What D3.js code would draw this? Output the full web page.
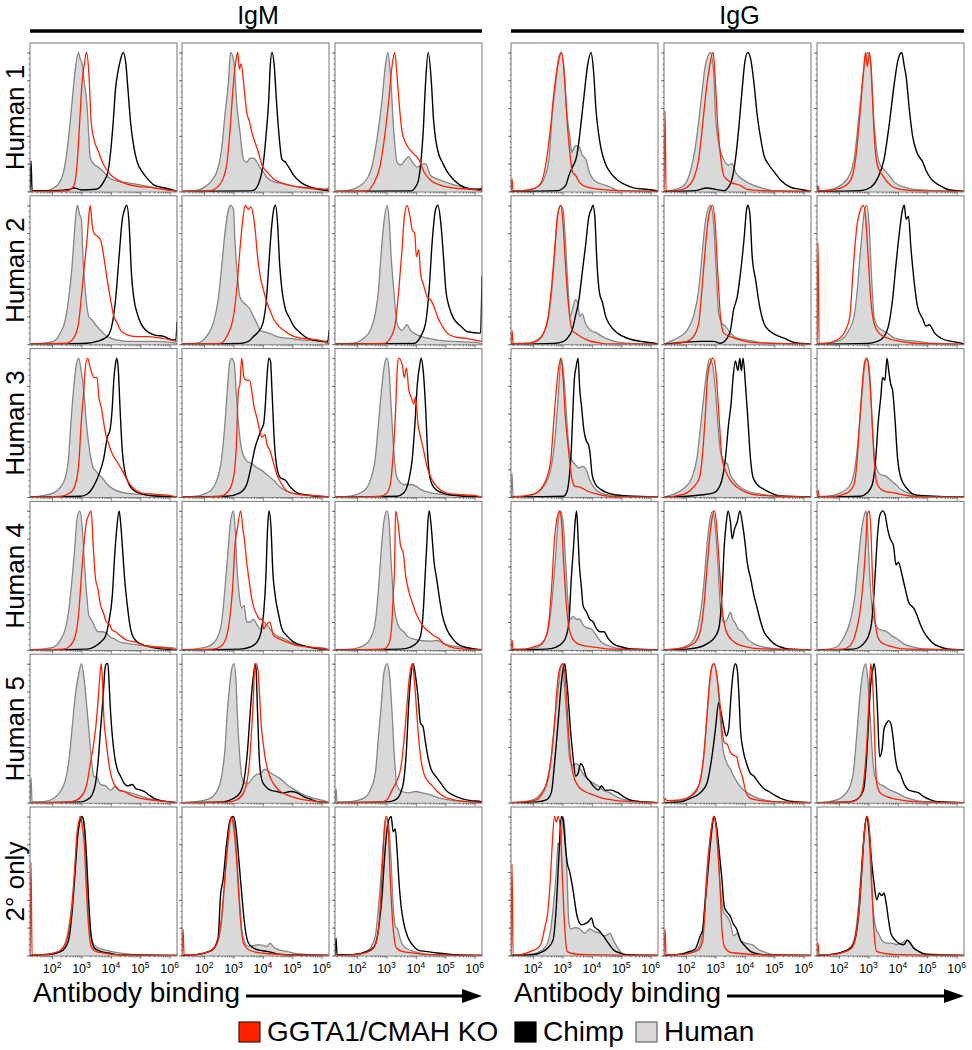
<!DOCTYPE html>
<html><head><meta charset="utf-8">
<script src="https://cdn.jsdelivr.net/npm/d3@7"></script>
<style>
body{margin:0;background:#fff}
svg{display:block}
text{font-family:"Liberation Sans",Arial,Helvetica,sans-serif;fill:#000}
</style>
</head><body>
<svg id="chart" width="972" height="1050"></svg>
<script>
// ---------------- DATA ----------------
const antibodies = ["IgM", "IgG"];
const rowLabels = ["Human 1", "Human 2", "Human 3", "Human 4", "Human 5", "2° only"];
const seriesNames = ["GGTA1/CMAH KO", "Chimp", "Human"];
const xTickExponents = [2, 3, 4, 5, 6];
const yTickPercents = [0, 20, 40, 60, 80, 100];
const xLogDomain = [1.25, 6.25];
const axisTitle = "Antibody binding";

// Each curve: [log10(antibody binding), % of max], 18 curves per array, row by row (3 per row)
const igmHuman = [
 [[1.8,0.5],[2.16,4],[2.39,14],[2.56,38],[2.67,62],[2.78,86],[2.9,100],[2.95,96],[3.02,92],[3.1,78],[3.19,62],[3.25,40],[3.3,24],[3.45,19],[3.53,18],[3.76,14],[3.99,9],[4.33,7],[4.9,5],[5.47,2.6],[6.04,1]],
 [[1.74,0.7],[2.08,4],[2.43,14],[2.6,31],[2.71,55],[2.83,79],[2.9,100],[3.0,95],[3.13,59],[3.22,43],[3.34,23],[3.45,21],[3.57,24],[3.68,24],[3.8,21],[3.91,17],[4.02,14],[4.14,10],[4.37,7],[4.71,5.5],[5.28,3],[5.85,1.4],[6.1,1],[6.25,3]],
 [[1.65,0.5],[2.1,4],[2.45,14],[2.68,38],[2.85,66],[2.96,90],[3.05,100],[3.13,86],[3.25,43],[3.36,21],[3.48,19],[3.65,23],[3.76,25],[3.88,21],[4.05,17.5],[4.16,19],[4.33,20],[4.5,11.5],[4.85,8],[5.19,5.5],[5.76,2.4],[6.22,1.4]],
 [[1.71,0.7],[2.05,2],[2.28,8],[2.45,17.5],[2.56,32],[2.68,56],[2.76,80],[2.83,97],[2.87,100],[2.93,94],[3.0,90],[3.05,63],[3.13,39],[3.25,20],[3.36,17.5],[3.48,14],[3.65,10],[3.88,5.5],[4.22,3],[4.67,2],[5.47,2],[6.16,1]],
 [[1.74,0.7],[2.08,5.5],[2.31,15],[2.48,32],[2.6,56],[2.71,80],[2.83,97],[2.9,100],[3.0,97],[3.05,75],[3.13,51],[3.22,34],[3.34,30],[3.45,28],[3.57,25],[3.68,20],[3.8,15],[3.91,10],[4.02,9],[4.2,8],[4.48,5.5],[4.82,4.3],[5.39,3],[5.96,2]],
 [[1.88,0.7],[2.22,4.3],[2.45,10],[2.62,22],[2.73,39],[2.81,63],[2.91,87],[3.02,100],[3.1,87],[3.16,63],[3.25,39],[3.36,15],[3.53,10],[3.7,14],[3.82,10],[4.05,6.7],[4.39,4.3],[4.73,3],[5.3,2],[6.1,1.2]],
 [[1.59,0.7],[2.05,3],[2.28,7],[2.45,14],[2.56,28],[2.64,53],[2.73,77],[2.83,96],[2.91,100],[2.99,91],[3.08,77],[3.17,53],[3.28,33],[3.4,21],[3.48,19],[3.59,16],[3.7,14],[3.88,9],[4.1,5.5],[4.45,3],[4.9,2],[5.47,1.2]],
 [[1.74,0.7],[2.2,4.3],[2.43,12],[2.6,28],[2.71,53],[2.79,77],[2.88,98],[2.94,100],[3.03,96],[3.09,77],[3.17,53],[3.29,33],[3.45,26],[3.62,24],[3.8,21],[3.97,19],[4.14,16],[4.37,12],[4.59,7],[4.94,3],[5.39,1.4]],
 [[1.76,0.7],[2.22,4.3],[2.45,12],[2.62,28],[2.73,53],[2.85,81],[2.96,98],[3.02,100],[3.09,91],[3.16,65],[3.25,33],[3.36,14],[3.59,9],[3.82,9],[3.99,8],[4.16,5.5],[4.5,3],[4.85,2],[5.3,1.2]],
 [[1.71,0.7],[2.05,2],[2.28,7],[2.45,15],[2.56,27],[2.68,51],[2.76,70],[2.85,94],[2.94,100],[3.02,90],[3.1,63],[3.17,42],[3.25,25],[3.33,22],[3.42,18],[3.56,13],[3.7,13],[3.85,12],[3.99,9],[4.1,8],[4.33,5.5],[4.67,4.3],[5.13,3],[5.7,2],[6.16,1.2]],
 [[1.74,0.7],[2.2,3],[2.43,8],[2.6,20],[2.71,44],[2.83,75],[2.9,92],[3.0,100],[3.06,87],[3.13,56],[3.2,39],[3.28,30],[3.36,32],[3.45,20],[3.57,20],[3.68,22],[3.8,18],[3.91,15],[4.02,20],[4.14,18],[4.31,13],[4.48,10],[4.71,8],[4.94,5.5],[5.28,3],[5.62,2],[6.08,1.2]],
 [[1.88,0.7],[2.22,3],[2.45,8],[2.62,20],[2.73,44],[2.81,68],[2.91,92],[3.02,100],[3.09,92],[3.16,63],[3.25,34],[3.36,20],[3.48,15],[3.59,13],[3.7,10],[3.88,8],[4.16,6.7],[4.5,6.3],[4.73,6.7],[4.96,4.3],[5.3,2.6],[5.76,1.2]],
 [[1.25,0],[1.285,18],[1.32,0.5],[1.71,0.7],[2.05,3],[2.28,8],[2.45,16],[2.56,28],[2.68,53],[2.79,77],[2.91,93],[3.0,100],[3.08,91],[3.17,72],[3.25,53],[3.33,33],[3.42,19],[3.53,18],[3.65,13],[3.82,12],[3.99,9],[4.16,12],[4.28,9],[4.45,8],[4.67,7],[4.9,5.5],[5.25,3],[5.59,1.4],[5.93,0.7]],
 [[1.74,0.7],[2.2,3],[2.43,8],[2.6,19],[2.71,38],[2.79,65],[2.88,86],[2.94,96],[3.02,100],[3.09,86],[3.13,65],[3.2,38],[3.28,19],[3.4,14],[3.51,14],[3.66,18],[3.77,20],[3.91,21],[4.08,24],[4.23,22],[4.37,20],[4.54,18],[4.71,15],[4.88,12],[5.11,9],[5.39,5.5],[5.74,3],[6.08,1.4]],
 [[1.25,0],[1.285,10],[1.32,0.5],[1.76,0.7],[2.22,3],[2.45,9],[2.62,21],[2.73,48],[2.83,72],[2.91,93],[3.02,100],[3.11,91],[3.19,65],[3.27,33],[3.36,12],[3.53,8],[3.76,7],[3.99,8],[4.22,7],[4.5,5.5],[4.85,3],[5.3,1.4]],
 [[1.59,0.5],[2.05,1.7],[2.28,3.6],[2.45,9],[2.56,19],[2.68,38],[2.77,60],[2.85,81],[2.93,96],[3.0,100],[3.08,96],[3.15,67],[3.23,31],[3.31,14],[3.42,8],[3.59,5.3],[3.76,4.1],[3.99,2.9],[4.33,1.7],[4.79,0.5]],
 [[1.63,0.5],[2.08,2.2],[2.31,4.1],[2.48,11],[2.6,26],[2.71,55],[2.83,84],[2.94,100],[3.02,96],[3.11,72],[3.2,43],[3.28,19],[3.36,11],[3.51,6.5],[3.68,7],[3.85,7.7],[4.0,7.2],[4.14,6.5],[4.25,8.9],[4.34,6.5],[4.54,4.1],[4.82,2.9],[5.17,1.2]],
 [[1.76,0.5],[2.22,2.2],[2.45,5.3],[2.62,14],[2.73,35],[2.83,62],[2.91,86],[2.99,100],[3.08,93],[3.16,67],[3.23,35],[3.3,21],[3.38,19],[3.48,11],[3.59,6.5],[3.82,3.6],[4.16,1.7],[4.62,0.5]]
];

const igmKO = [
 [[2.5,0.3],[2.74,4],[2.85,19],[2.94,50],[3.02,78],[3.1,92],[3.17,100],[3.25,86],[3.33,50],[3.42,38],[3.59,28],[3.76,19],[3.99,12],[4.33,7],[4.9,3.6],[5.47,2.6],[5.93,1],[6.2,0.3]],
 [[2.2,0.5],[2.54,5],[2.77,19],[2.88,43],[3.0,78],[3.09,95],[3.145,100],[3.2,88],[3.26,92],[3.36,75],[3.45,57],[3.55,50],[3.62,43],[3.74,35],[3.85,28],[3.97,19],[4.14,14],[4.37,9],[4.71,5.5],[5.28,3],[5.85,2],[6.2,1.4]],
 [[2.33,0.3],[2.56,5.5],[2.79,19],[2.96,43],[3.08,66],[3.19,90],[3.28,100],[3.36,83],[3.45,59],[3.53,43],[3.65,35],[3.76,31],[3.93,27],[4.1,23],[4.28,14],[4.5,8],[4.85,4.3],[5.3,2.4],[5.99,1.4]],
 [[2.5,0.7],[2.73,4.3],[2.9,15],[3.02,39],[3.13,63],[3.19,75],[3.25,92],[3.3,100],[3.36,87],[3.42,80],[3.53,78],[3.65,75],[3.76,63],[3.88,46],[3.99,32],[4.1,20],[4.22,15],[4.33,10],[4.56,6.7],[4.85,5.5],[5.25,5.5],[5.7,4.3],[6.04,3],[6.25,2]],
 [[2.54,0.5],[2.77,5.5],[3.0,20],[3.11,39],[3.22,68],[3.32,90],[3.4,100],[3.51,97],[3.59,99],[3.68,92],[3.74,82],[3.82,63],[3.91,49],[4.02,39],[4.14,30],[4.25,24],[4.37,18],[4.54,13],[4.71,10],[4.94,6.7],[5.28,4.3],[5.62,3.6],[5.96,2.6],[6.19,1.2]],
 [[2.91,0.5],[3.13,4.3],[3.3,15],[3.42,39],[3.53,68],[3.61,92],[3.7,100],[3.8,92],[3.88,82],[3.96,80],[4.02,63],[4.1,68],[4.16,51],[4.27,42],[4.39,34],[4.5,32],[4.62,27],[4.73,20],[4.9,13],[5.07,8],[5.3,5.5],[5.65,4.3],[5.99,3],[6.25,2]],
 [[2.28,0.5],[2.62,3],[2.79,9],[2.91,24],[2.99,53],[3.08,77],[3.13,93],[3.21,100],[3.3,93],[3.42,86],[3.53,86],[3.59,72],[3.67,65],[3.76,53],[3.85,43],[3.93,38],[4.05,31],[4.22,25],[4.39,19],[4.56,12],[4.73,7],[5.02,3],[5.47,2],[5.93,1.4]],
 [[2.54,0.5],[2.83,4.3],[3.0,14],[3.09,33],[3.17,77],[3.22,81],[3.28,100],[3.36,86],[3.45,84],[3.55,84],[3.62,77],[3.7,65],[3.8,57],[3.89,48],[3.97,43],[4.07,45],[4.14,38],[4.25,33],[4.37,24],[4.48,16],[4.65,9],[4.82,4.3],[5.17,2],[5.62,1.2]],
 [[2.79,0.5],[3.02,3],[3.13,9],[3.22,28],[3.3,57],[3.38,96],[3.42,100],[3.53,96],[3.61,86],[3.68,93],[3.76,77],[3.84,72],[3.93,67],[3.99,72],[4.07,53],[4.16,43],[4.27,33],[4.39,21],[4.56,12],[4.73,7],[5.02,3],[5.3,2],[5.76,1.4],[6.1,0.7]],
 [[2.39,0.5],[2.62,3],[2.79,10],[2.91,27],[2.99,51],[3.08,75],[3.17,92],[3.25,97],[3.33,100],[3.4,75],[3.48,51],[3.56,44],[3.65,32],[3.74,27],[3.85,20],[3.97,18],[4.05,14],[4.16,13],[4.33,10],[4.56,6.7],[4.85,5.5],[5.13,3],[5.47,2],[5.93,1.2]],
 [[2.31,0.5],[2.6,3],[2.77,10],[2.86,20],[2.97,44],[3.05,75],[3.13,87],[3.25,100],[3.32,87],[3.37,80],[3.45,63],[3.54,49],[3.62,37],[3.7,30],[3.8,25],[3.89,22],[3.97,22],[4.03,15],[4.12,18],[4.23,20],[4.37,10],[4.54,8],[4.82,5.5],[5.17,3],[5.62,2],[6.08,0.7]],
 [[2.91,0.5],[3.08,4.3],[3.17,15],[3.23,39],[3.28,63],[3.31,100],[3.39,92],[3.48,75],[3.57,70],[3.65,54],[3.76,42],[3.88,34],[3.99,27],[4.1,22],[4.22,18],[4.33,15],[4.45,13],[4.62,10],[4.79,8],[4.96,4.3],[5.19,2],[5.53,0.7]],
 [[2.51,0.3],[2.85,2],[3.08,7],[3.19,14],[3.3,28],[3.4,40],[3.48,53],[3.56,72],[3.62,89],[3.67,100],[3.72,86],[3.76,62],[3.82,48],[3.9,33],[3.99,21],[4.1,14],[4.28,9],[4.45,8],[4.67,5.5],[5.02,3],[5.36,2],[5.7,1.2]],
 [[2.77,0.3],[3.11,2],[3.34,7],[3.45,14],[3.54,28],[3.62,53],[3.68,77],[3.72,98],[3.77,100],[3.83,96],[3.89,77],[3.94,57],[4.01,43],[4.09,31],[4.2,21],[4.35,14],[4.54,9],[4.82,5.5],[5.17,3],[5.62,1.4]],
 [[2.79,0.3],[3.02,2],[3.19,9],[3.34,15],[3.48,24],[3.59,43],[3.68,65],[3.76,86],[3.82,96],[3.88,100],[3.93,93],[3.99,77],[4.07,53],[4.16,33],[4.27,21],[4.39,16],[4.56,12],[4.73,8],[4.96,4.3],[5.3,2],[5.76,0.7]],
 [[1.25,0],[1.285,67],[1.32,0.5],[1.71,0.5],[2.05,1.7],[2.28,3.6],[2.45,8],[2.56,16],[2.68,35],[2.77,62],[2.85,88],[2.91,96],[2.96,100],[3.03,93],[3.1,79],[3.17,47],[3.25,19],[3.33,6.5],[3.48,2.9],[3.76,1.7],[4.22,0.5]],
 [[1.25,0],[1.285,19],[1.32,0.5],[1.74,0.5],[2.08,2.2],[2.31,4.6],[2.48,11],[2.6,28],[2.71,57],[2.83,86],[2.92,100],[3.0,93],[3.09,74],[3.17,47],[3.25,23],[3.34,8.9],[3.51,4.1],[3.8,2.2],[4.25,1.2],[4.82,0.5]],
 [[1.88,0.5],[2.33,2.2],[2.56,5.3],[2.7,14],[2.79,35],[2.87,67],[2.93,91],[2.99,100],[3.06,91],[3.13,55],[3.23,19],[3.34,5.3],[3.53,2.9],[3.93,1.7],[4.39,0.5]]
];

const igmChimp = [
 [[1.25,0],[1.285,22],[1.32,0.5],[2.0,0.5],[2.6,1.5],[2.75,2.5],[3.0,1],[3.5,1.5],[3.76,7],[3.9,14],[3.99,28],[4.08,50],[4.16,74],[4.24,86],[4.33,95],[4.42,100],[4.51,92],[4.58,74],[4.67,50],[4.79,31],[4.9,21],[5.07,14],[5.25,9],[5.47,4.6],[5.82,2.6],[6.1,1]],
 [[3.5,0.3],[3.68,0.7],[3.91,9],[4.02,21],[4.12,43],[4.2,66],[4.25,90],[4.31,100],[4.39,90],[4.46,66],[4.54,43],[4.65,23],[4.77,21],[4.88,17.5],[5.05,11.5],[5.28,6.7],[5.62,3],[5.96,1.4],[6.2,0.5]],
 [[3.82,0.3],[4.05,5.5],[4.18,23],[4.25,43],[4.33,78],[4.42,100],[4.53,78],[4.6,52],[4.67,38],[4.79,26],[4.9,21],[5.07,14],[5.3,8],[5.64,3],[5.99,1.4],[6.2,1.5],[6.25,3]],
 [[3.19,0.7],[3.53,2],[3.88,5.5],[4.05,15],[4.16,32],[4.28,63],[4.39,90],[4.47,97],[4.54,100],[4.62,87],[4.7,51],[4.79,32],[4.9,22],[5.02,15],[5.19,10],[5.47,6.7],[5.82,5.5],[6.1,3],[6.21,3],[6.25,16]],
 [[3.22,0.5],[3.51,2],[3.68,5.5],[3.85,9],[4.0,15],[4.12,32],[4.2,56],[4.28,80],[4.37,97],[4.43,100],[4.5,87],[4.57,58],[4.65,39],[4.77,25],[4.88,20],[5.05,13],[5.28,8],[5.51,4.3],[5.74,3],[6.08,2],[6.21,2],[6.25,10]],
 [[3.93,0.5],[4.16,5.5],[4.33,15],[4.45,39],[4.56,75],[4.67,97],[4.75,100],[4.85,87],[4.94,63],[5.02,39],[5.13,27],[5.3,18],[5.53,13],[5.76,9],[6.2,8],[6.25,49]],
 [[2.96,0.5],[3.19,2],[3.42,8],[3.59,16],[3.76,28],[3.88,43],[3.97,48],[4.05,65],[4.1,84],[4.16,96],[4.2,100],[4.25,93],[4.31,65],[4.39,33],[4.47,19],[4.56,12],[4.73,5.5],[5.02,2.4],[5.47,0.7]],
 [[2.77,0.5],[3.22,3],[3.45,9],[3.62,24],[3.74,36],[3.85,43],[3.94,48],[4.03,53],[4.08,65],[4.14,86],[4.2,100],[4.26,98],[4.31,77],[4.39,40],[4.48,21],[4.59,14],[4.77,12],[4.94,7],[5.17,3],[5.51,1.4]],
 [[3.36,0.5],[3.59,3],[3.76,12],[3.88,28],[3.97,53],[4.05,81],[4.14,96],[4.18,100],[4.25,91],[4.33,65],[4.41,28],[4.5,12],[4.67,5.5],[4.9,3],[5.19,1.4]],
 [[3.19,0.5],[3.42,2],[3.65,5.5],[3.82,10],[3.93,20],[4.05,39],[4.13,68],[4.2,87],[4.28,100],[4.33,92],[4.39,75],[4.47,51],[4.56,32],[4.67,15],[4.79,8],[5.02,4.3],[5.36,2],[5.7,0.7]],
 [[3.22,0.5],[3.57,2],[3.8,5.5],[3.94,13],[4.03,27],[4.1,51],[4.16,87],[4.21,100],[4.28,87],[4.34,56],[4.42,39],[4.54,25],[4.65,15],[4.82,10],[5.05,5.5],[5.39,3],[5.74,1.2]],
 [[3.48,0.5],[3.82,2],[4.05,5.5],[4.16,10],[4.25,27],[4.31,51],[4.37,75],[4.41,92],[4.46,100],[4.53,87],[4.62,63],[4.71,51],[4.79,39],[4.9,25],[5.05,15],[5.25,8],[5.42,4.3],[5.65,2],[5.99,0.7]],
 [[2.96,0.5],[3.19,2],[3.36,5.5],[3.48,14],[3.56,28],[3.65,53],[3.74,77],[3.8,96],[3.85,100],[3.9,100],[3.94,86],[3.99,65],[4.05,48],[4.13,33],[4.22,24],[4.33,19],[4.45,14],[4.56,12],[4.73,13],[4.85,10],[5.02,9],[5.13,8],[5.3,5.5],[5.47,3],[5.7,1.4],[5.93,0.7]],
 [[2.65,0.5],[3.0,3],[3.22,7],[3.36,16],[3.48,38],[3.57,65],[3.65,86],[3.71,96],[3.74,100],[3.77,96],[3.82,65],[3.89,28],[3.97,16],[4.08,12],[4.25,9],[4.48,8],[4.71,7],[4.94,8],[5.17,7],[5.39,4.3],[5.62,2.4],[5.85,0.7]],
 [[3.02,0.5],[3.3,2],[3.48,7],[3.59,16],[3.68,38],[3.76,72],[3.84,93],[3.91,100],[3.99,91],[4.07,77],[4.16,57],[4.24,55],[4.33,43],[4.41,33],[4.52,24],[4.67,19],[4.85,14],[5.02,9],[5.25,5.5],[5.53,3],[5.88,1.4],[6.22,0.7]],
 [[1.82,0.5],[2.16,1.7],[2.39,4.1],[2.56,11],[2.68,31],[2.79,62],[2.87,86],[2.94,96],[3.02,100],[3.1,93],[3.17,72],[3.25,38],[3.33,14],[3.44,5.3],[3.65,2.9],[3.93,1.7],[4.22,0.5]],
 [[1.74,0.5],[2.08,2.2],[2.31,4.6],[2.48,13],[2.56,43],[2.65,55],[2.77,81],[2.88,97],[3.0,100],[3.09,91],[3.17,72],[3.25,52],[3.32,35],[3.4,19],[3.51,8.9],[3.68,5.3],[3.91,3.6],[4.14,2.9],[4.37,1.7],[4.71,0.5]],
 [[1.25,0],[1.285,12.5],[1.32,0.5],[1.88,0.5],[2.33,2.7],[2.59,6.5],[2.73,19],[2.85,43],[2.94,72],[3.02,91],[3.11,99],[3.16,100],[3.23,89],[3.3,91],[3.36,76],[3.42,55],[3.5,35],[3.59,23],[3.71,14],[3.88,7.7],[4.1,3.6],[4.33,2.9],[4.73,1.7],[5.3,0.5]]
];

const iggHuman = [
 [[1.68,0.5],[2.14,3],[2.37,9],[2.54,23],[2.65,55],[2.77,78],[2.88,97],[2.96,100],[3.05,90],[3.14,59],[3.26,38],[3.32,28],[3.36,30],[3.45,33],[3.57,32],[3.68,26],[3.8,23],[3.91,14],[4.08,8],[4.31,5.5],[4.65,3],[4.88,0.7]],
 [[1.46,0.5],[1.91,4],[2.14,14],[2.31,31],[2.43,50],[2.54,71],[2.65,90],[2.83,100],[2.94,86],[3.0,55],[3.11,35],[3.28,23],[3.45,19],[3.57,20],[3.68,14],[3.97,8],[4.31,4.3],[4.77,1.4],[5.0,0.5]],
 [[1.48,0.5],[1.93,3],[2.28,9],[2.51,23],[2.68,55],[2.79,78],[2.9,97],[2.98,100],[3.08,93],[3.17,55],[3.25,35],[3.36,21],[3.51,16],[3.65,13],[3.88,6.7],[4.22,3],[4.56,1.4]],
 [[1.79,0.7],[2.13,3],[2.36,8],[2.53,20],[2.64,39],[2.73,63],[2.81,87],[2.93,100],[3.02,97],[3.1,75],[3.18,44],[3.27,20],[3.36,27],[3.44,32],[3.52,30],[3.59,20],[3.67,22],[3.78,15],[3.96,10],[4.18,8],[4.36,5.5],[4.64,3],[4.98,1.2]],
 [[1.3,0.5],[1.46,2],[1.8,5.5],[2.03,10],[2.25,20],[2.43,39],[2.54,63],[2.65,87],[2.83,100],[2.94,87],[3.03,51],[3.11,22],[3.22,15],[3.34,13],[3.51,8],[3.74,4.3],[4.08,3],[4.54,1.2]],
 [[1.59,0.7],[2.05,3],[2.33,10],[2.51,20],[2.62,39],[2.71,63],[2.79,82],[2.87,97],[2.94,100],[3.02,87],[3.1,51],[3.19,20],[3.3,13],[3.48,10],[3.65,8],[3.88,4.3],[4.22,3],[4.67,2],[5.13,0.7]],
 [[1.25,0],[1.285,17],[1.32,0.5],[1.79,0.5],[2.13,3],[2.41,9],[2.59,19],[2.7,33],[2.79,53],[2.87,77],[2.95,100],[3.04,89],[3.12,65],[3.21,38],[3.29,28],[3.41,24],[3.56,21],[3.7,22],[3.82,19],[3.93,12],[4.07,7],[4.3,3],[4.64,1.4]],
 [[1.34,0.5],[1.68,3],[1.97,7],[2.2,14],[2.37,28],[2.48,48],[2.6,72],[2.71,91],[2.8,100],[2.89,96],[3.0,77],[3.08,53],[3.17,33],[3.28,26],[3.4,24],[3.51,16],[3.62,12],[3.85,7],[4.08,4.3],[4.54,2],[5.0,0.7]],
 [[1.59,0.5],[2.05,3],[2.39,9],[2.56,24],[2.68,48],[2.79,77],[2.88,96],[2.96,100],[3.05,86],[3.13,53],[3.21,28],[3.3,19],[3.42,16],[3.59,15],[3.76,12],[3.93,9],[4.1,5.5],[4.33,3],[4.67,1.4]],
 [[1.76,0.5],[2.16,2],[2.39,7],[2.56,20],[2.68,44],[2.77,68],[2.85,92],[2.93,100],[3.02,92],[3.11,63],[3.19,34],[3.27,22],[3.36,24],[3.48,22],[3.59,22],[3.7,18],[3.82,16],[3.99,15],[4.16,10],[4.33,5.5],[4.56,3],[4.85,1.2]],
 [[1.57,0.5],[1.91,2],[2.2,5.5],[2.37,13],[2.48,25],[2.6,46],[2.71,75],[2.8,92],[2.92,100],[3.0,87],[3.08,63],[3.17,30],[3.28,20],[3.4,22],[3.51,27],[3.59,22],[3.68,19],[3.77,15],[3.92,13],[4.08,8],[4.31,4.3],[4.65,2],[5.11,0.7]],
 [[1.63,0.5],[1.91,2],[2.14,8],[2.37,20],[2.54,39],[2.65,63],[2.77,87],[2.86,97],[2.92,100],[2.97,87],[3.05,51],[3.14,27],[3.22,20],[3.34,15],[3.49,14],[3.62,13],[3.8,10],[3.97,8],[4.2,4.3],[4.54,2],[4.88,0.7]],
 [[1.65,0.5],[2.0,2],[2.28,7],[2.45,14],[2.62,33],[2.73,57],[2.85,81],[2.93,96],[3.0,100],[3.08,81],[3.17,53],[3.25,31],[3.36,27],[3.48,28],[3.61,24],[3.76,19],[3.91,16],[4.05,14],[4.22,12],[4.39,9],[4.62,7],[4.96,3],[5.3,1.4]],
 [[1.57,0.5],[2.03,3],[2.25,7],[2.46,14],[2.6,33],[2.71,62],[2.8,86],[2.88,98],[2.94,100],[3.05,91],[3.15,65],[3.26,38],[3.4,28],[3.51,24],[3.62,19],[3.76,14],[3.91,10],[4.08,7],[4.31,4.3],[4.65,2],[5.0,0.5]],
 [[1.63,0.5],[2.03,3],[2.31,9],[2.48,21],[2.6,48],[2.71,77],[2.83,96],[2.91,100],[2.97,91],[3.05,65],[3.14,33],[3.22,19],[3.34,14],[3.51,12],[3.74,9],[3.97,7],[4.2,4.3],[4.54,2],[4.88,0.7]],
 [[1.65,0.5],[2.11,1.7],[2.39,5.3],[2.56,14],[2.68,33],[2.79,60],[2.85,81],[2.91,79],[2.96,86],[3.02,100],[3.08,91],[3.16,55],[3.22,23],[3.3,19],[3.42,20],[3.59,19],[3.76,16],[3.93,19],[4.1,17],[4.28,16],[4.45,14],[4.62,16],[4.73,11],[4.85,6.5],[5.02,1.7],[5.19,0.5]],
 [[1.68,0.5],[2.03,1.7],[2.37,4.1],[2.54,14],[2.63,35],[2.71,62],[2.83,86],[2.94,100],[3.03,91],[3.11,67],[3.19,43],[3.28,31],[3.4,28],[3.51,23],[3.62,14],[3.74,16],[3.85,11],[4.02,8.9],[4.25,7.7],[4.48,4.1],[4.77,1.7],[5.0,0.5]],
 [[1.63,0.5],[2.03,1.7],[2.37,5.3],[2.54,14],[2.65,33],[2.75,60],[2.83,81],[2.94,100],[3.02,86],[3.09,55],[3.17,31],[3.26,19],[3.34,16],[3.45,11],[3.62,8.9],[3.8,8.9],[3.97,7.7],[4.14,8.9],[4.29,11],[4.42,8.9],[4.54,5.3],[4.71,2.9],[4.88,1.2]]
];

const iggKO = [
 [[1.25,0],[1.285,9],[1.32,0.5],[1.57,0.5],[2.03,2],[2.25,5.5],[2.43,19],[2.6,47],[2.71,71],[2.83,90],[2.97,100],[3.08,78],[3.17,47],[3.26,26],[3.34,14],[3.45,11.5],[3.57,6.7],[3.85,3],[4.31,1.4],[4.88,0.5]],
 [[1.25,0],[1.285,58],[1.32,0.5],[1.68,0.5],[2.03,3],[2.25,9],[2.43,23],[2.54,43],[2.65,66],[2.77,86],[2.92,100],[3.0,78],[3.08,47],[3.17,26],[3.28,11.5],[3.51,6.7],[3.85,4.3],[4.08,1.4],[4.5,0.5]],
 [[1.25,0],[1.285,4],[1.32,0.5],[1.48,0.5],[2.05,2.4],[2.39,8],[2.56,23],[2.71,55],[2.83,86],[2.9,100],[2.96,90],[3.04,100],[3.13,71],[3.19,43],[3.3,19],[3.48,11.5],[3.76,4.3],[4.1,1.4],[4.5,0.5]],
 [[1.25,0],[1.285,10],[1.32,0.5],[1.9,0.5],[2.19,3],[2.36,8],[2.53,22],[2.64,44],[2.76,75],[2.84,94],[2.95,100],[3.02,87],[3.1,58],[3.21,27],[3.33,10],[3.44,8],[3.61,5.5],[3.84,3],[4.18,1.2],[4.53,0.2]],
 [[1.57,0.3],[2.03,2],[2.25,5.5],[2.43,15],[2.54,39],[2.65,68],[2.77,92],[2.9,100],[2.99,87],[3.08,51],[3.17,20],[3.28,8],[3.51,5.5],[3.85,3],[4.31,1.2]],
 [[1.25,0],[1.285,73],[1.32,0.5],[1.48,0.5],[1.93,3],[2.22,10],[2.37,20],[2.45,44],[2.53,68],[2.62,87],[2.73,97],[2.83,100],[2.9,92],[2.99,63],[3.08,32],[3.19,15],[3.36,8],[3.65,4.3],[4.1,2],[4.56,0.7]],
 [[1.56,0.5],[2.01,2],[2.3,7],[2.47,14],[2.61,28],[2.7,53],[2.79,77],[2.87,93],[2.95,100],[3.02,86],[3.1,57],[3.21,33],[3.3,16],[3.41,8],[3.61,7],[3.84,4.3],[4.18,2],[4.53,0.7]],
 [[1.57,0.5],[2.03,3],[2.25,7],[2.46,14],[2.57,33],[2.65,57],[2.73,86],[2.83,97],[2.92,100],[3.0,93],[3.08,72],[3.15,48],[3.22,28],[3.34,19],[3.51,12],[3.74,7],[4.08,3],[4.54,1.2]],
 [[1.25,0],[1.285,5],[1.32,0.5],[1.82,0.5],[2.28,3],[2.51,9],[2.62,28],[2.71,57],[2.79,81],[2.87,97],[2.94,100],[3.02,91],[3.1,65],[3.19,28],[3.3,9],[3.53,4.3],[3.88,3],[4.22,1.4],[4.6,0.5]],
 [[1.25,0],[1.285,7],[1.32,0.5],[1.65,0.5],[2.0,2],[2.28,4.3],[2.45,10],[2.56,25],[2.65,51],[2.73,80],[2.81,94],[2.9,100],[2.97,92],[3.04,63],[3.11,39],[3.19,20],[3.3,10],[3.45,5.5],[3.7,3],[4.05,2],[4.5,0.7]],
 [[1.57,0.5],[2.03,2],[2.31,5.5],[2.48,13],[2.6,30],[2.71,58],[2.8,80],[2.88,94],[2.97,100],[3.05,87],[3.14,58],[3.22,32],[3.34,15],[3.51,8],[3.74,4.3],[4.08,2],[4.54,0.7]],
 [[2.14,0.5],[2.37,3],[2.54,10],[2.71,27],[2.83,51],[2.92,80],[2.96,97],[3.03,100],[3.08,87],[3.14,51],[3.22,22],[3.34,8],[3.51,4.3],[3.85,2],[4.2,0.7]],
 [[1.65,0.5],[2.11,2],[2.33,7],[2.5,16],[2.62,33],[2.73,57],[2.81,81],[2.9,96],[3.02,100],[3.11,86],[3.19,57],[3.27,33],[3.38,19],[3.53,12],[3.76,8],[4.05,5.5],[4.39,3],[4.85,1.4],[5.3,0.7]],
 [[1.25,0],[1.285,3],[1.34,1.4],[1.8,2],[2.14,4.3],[2.37,9],[2.51,19],[2.62,38],[2.71,62],[2.8,86],[2.88,98],[2.96,100],[3.05,91],[3.15,72],[3.22,53],[3.31,43],[3.4,42],[3.51,36],[3.62,34],[3.72,33],[3.8,26],[3.91,19],[4.02,9],[4.19,3],[4.54,1.4],[5.0,0.7]],
 [[2.37,0.5],[2.6,2],[2.77,7],[2.88,24],[2.97,53],[3.03,81],[3.08,100],[3.12,93],[3.17,74],[3.22,40],[3.28,14],[3.4,7],[3.62,4.3],[4.08,2],[4.54,0.7]],
 [[1.25,0],[1.285,66],[1.32,0.5],[1.54,0.5],[1.76,1.7],[2.0,3.6],[2.16,5.3],[2.28,8.9],[2.39,19],[2.5,31],[2.59,55],[2.65,79],[2.73,100],[2.79,96],[2.85,100],[2.93,91],[3.0,55],[3.08,19],[3.16,2.9],[3.36,1.2],[3.82,0.5]],
 [[1.25,0],[1.285,19],[1.32,0.5],[1.68,0.5],[2.14,1.7],[2.43,4.1],[2.57,11],[2.65,35],[2.73,62],[2.83,86],[2.94,100],[3.03,91],[3.11,67],[3.17,43],[3.22,19],[3.3,6.5],[3.51,2.2],[3.97,1.2],[4.54,0.5]],
 [[1.25,0],[1.285,9],[1.32,0.5],[1.68,0.5],[2.14,2.2],[2.43,5.3],[2.57,14],[2.69,35],[2.77,60],[2.85,86],[2.96,100],[3.03,91],[3.09,67],[3.14,38],[3.2,14],[3.28,2.9],[3.62,1.2],[4.08,0.5]]
];

const iggChimp = [
 [[2.83,0.5],[3.11,4.3],[3.22,11.5],[3.34,17.5],[3.49,26],[3.6,43],[3.72,66],[3.85,90],[3.97,100],[4.06,86],[4.14,59],[4.22,43],[4.31,31],[4.48,19],[4.65,13],[4.88,8],[5.11,5],[5.45,2.4],[5.91,1.4],[6.2,0.5]],
 [[2.3,0.5],[2.7,2.5],[3.0,1.5],[3.28,0.5],[3.51,5.5],[3.68,23],[3.8,47],[3.91,74],[4.0,93],[4.1,100],[4.2,95],[4.31,78],[4.42,55],[4.54,38],[4.65,26],[4.82,19],[5.0,14],[5.22,8],[5.56,3],[5.91,1.4]],
 [[2.73,0.5],[3.08,3],[3.3,9],[3.53,23],[3.7,47],[3.88,78],[4.01,95],[4.13,100],[4.22,90],[4.28,83],[4.39,59],[4.5,40],[4.65,28],[4.85,21],[4.96,15],[5.13,9],[5.42,4.3],[5.7,1.4],[6.0,0.5]],
 [[2.7,0.5],[3.04,2],[3.21,5.5],[3.33,10],[3.44,20],[3.56,32],[3.67,51],[3.78,70],[3.9,92],[3.98,97],[4.04,100],[4.1,92],[4.18,56],[4.26,37],[4.36,30],[4.47,20],[4.64,13],[4.87,8],[5.21,4.3],[5.67,2],[6.12,0.7]],
 [[1.57,0.7],[2.48,2],[2.94,2],[3.17,0.7],[3.4,4.3],[3.51,10],[3.62,25],[3.74,34],[3.85,51],[3.97,75],[4.06,97],[4.1,100],[4.17,94],[4.25,63],[4.37,46],[4.48,30],[4.65,15],[4.82,10],[5.05,6.7],[5.34,4.3],[5.68,1.2]],
 [[2.96,0.5],[3.3,2],[3.53,5.5],[3.7,15],[3.82,32],[3.93,56],[4.05,80],[4.16,97],[4.22,100],[4.28,90],[4.36,92],[4.45,68],[4.56,44],[4.67,27],[4.85,18],[4.96,13],[5.07,14],[5.25,8],[5.47,4.3],[5.82,2],[6.16,0.7]],
 [[3.04,0.5],[3.16,4.3],[3.24,16],[3.3,33],[3.36,65],[3.41,86],[3.46,93],[3.53,100],[3.59,77],[3.65,65],[3.73,48],[3.82,40],[3.88,38],[3.93,33],[4.01,16],[4.13,9],[4.3,5.5],[4.53,3],[4.87,1.4],[5.21,0.7]],
 [[2.03,0.5],[2.48,1.4],[2.94,3],[3.17,9],[3.34,28],[3.45,53],[3.53,67],[3.6,86],[3.68,98],[3.76,91],[3.83,100],[3.88,91],[3.94,100],[4.02,81],[4.1,57],[4.19,28],[4.28,14],[4.42,9],[4.65,5.5],[4.88,3],[5.22,0.7]],
 [[2.73,0.5],[2.96,3],[3.13,9],[3.25,28],[3.33,53],[3.42,72],[3.48,86],[3.56,84],[3.63,100],[3.69,91],[3.76,81],[3.82,77],[3.9,57],[3.99,28],[4.1,14],[4.28,7],[4.45,3],[4.67,1.2]],
 [[2.45,0.5],[2.79,2],[3.02,5.5],[3.13,10],[3.22,20],[3.3,51],[3.38,75],[3.43,92],[3.48,100],[3.52,87],[3.57,63],[3.65,44],[3.7,32],[3.82,27],[3.93,22],[4.05,20],[4.16,15],[4.28,13],[4.41,13],[4.56,8],[4.73,4.3],[5.02,2],[5.3,0.7]],
 [[2.03,0.5],[2.48,2],[2.71,4.3],[2.94,8],[3.11,15],[3.22,39],[3.3,75],[3.37,92],[3.43,100],[3.51,92],[3.57,80],[3.65,87],[3.74,92],[3.83,100],[3.91,92],[3.99,80],[4.08,63],[4.2,51],[4.31,39],[4.42,30],[4.54,20],[4.65,13],[4.82,8],[5.0,4.3],[5.22,2],[5.45,0.7]],
 [[2.48,0.5],[2.71,2],[2.88,5.5],[3.0,10],[3.11,20],[3.22,51],[3.3,80],[3.39,97],[3.49,100],[3.57,97],[3.65,87],[3.74,80],[3.85,75],[3.94,61],[4.02,63],[4.14,54],[4.25,44],[4.37,34],[4.54,30],[4.65,25],[4.77,18],[4.88,13],[5.05,8],[5.22,4.3],[5.45,2],[5.68,0.7]],
 [[2.11,0.5],[2.45,2],[2.62,7],[2.73,28],[2.85,57],[2.94,81],[3.0,93],[3.08,100],[3.13,91],[3.19,77],[3.27,53],[3.36,33],[3.45,19],[3.53,21],[3.62,28],[3.7,26],[3.8,19],[3.91,16],[4.05,12],[4.22,9],[4.33,12],[4.45,9],[4.56,9],[4.67,9],[4.79,8],[4.9,7],[5.07,4.3],[5.3,2],[5.65,0.7]],
 [[1.8,0.5],[2.14,3],[2.48,7],[2.71,14],[2.88,33],[3.0,53],[3.11,72],[3.19,65],[3.28,55],[3.37,48],[3.45,53],[3.53,77],[3.6,93],[3.68,100],[3.74,96],[3.8,77],[3.85,53],[3.94,38],[4.06,28],[4.19,21],[4.31,19],[4.48,14],[4.65,10],[4.82,8],[5.0,5.5],[5.22,3],[5.45,1.4],[5.68,0.7]],
 [[2.37,0.5],[2.65,3],[2.83,9],[2.94,33],[3.02,65],[3.08,86],[3.15,96],[3.19,100],[3.25,91],[3.31,65],[3.38,33],[3.46,38],[3.53,53],[3.61,57],[3.68,59],[3.76,57],[3.83,48],[3.91,33],[3.99,24],[4.08,21],[4.2,14],[4.37,9],[4.54,8],[4.71,7],[4.88,4.3],[5.11,2],[5.34,0.7]],
 [[1.99,0.5],[2.28,2.2],[2.5,5.3],[2.68,11],[2.79,35],[2.88,72],[2.96,100],[3.02,98],[3.09,81],[3.16,67],[3.25,60],[3.36,47],[3.5,28],[3.65,22],[3.8,23],[3.91,25],[3.99,27],[4.07,21],[4.18,19],[4.28,17],[4.39,14],[4.56,8.9],[4.73,4.1],[4.96,1.7],[5.19,0.5]],
 [[1.68,0.5],[2.03,2.2],[2.31,4.6],[2.48,14],[2.57,19],[2.65,38],[2.73,57],[2.83,81],[2.96,100],[3.05,91],[3.14,72],[3.22,55],[3.3,35],[3.4,31],[3.51,28],[3.6,23],[3.72,19],[3.85,11],[4.02,6.5],[4.19,2.9],[4.42,1.2],[4.65,0.5]],
 [[1.68,0.5],[2.14,2.7],[2.43,6],[2.57,14],[2.69,35],[2.77,60],[2.85,86],[2.94,100],[3.03,88],[3.11,67],[3.19,52],[3.28,40],[3.37,45],[3.45,43],[3.53,45],[3.6,38],[3.68,26],[3.76,16],[3.85,12.5],[4.02,8.9],[4.2,7.7],[4.33,11],[4.42,8.9],[4.54,5.3],[4.71,2.9],[4.88,1.2],[5.11,0.5]]
];

// ---------------- LAYOUT / STYLE ----------------
const colX = [30, 182, 335, 511, 664, 817];
const panelW = 147, panelH = 149, rowTop = 43, rowPitch = 152.8;
const col = {ko: "#ff2200", chimp: "#000000", human: "#858585", humanFill: "#d9d9d9", frame: "#777777", tick: "#5a5a5a"};

const curveSets = {
  IgM: {human: igmHuman, ko: igmKO, chimp: igmChimp},
  IgG: {human: iggHuman, ko: iggKO, chimp: iggChimp}
};

const svg = d3.select("#chart");
const defs = svg.append("defs");

const [L0, L1] = xLogDomain;
const majorX = xTickExponents.map(e => Math.pow(10, e));
const minorX = [];
for (let e = 1; e <= 6; e++) for (let m = 2; m <= 9; m++) {
  const v = m * Math.pow(10, e);
  if (Math.log10(v) >= L0 && Math.log10(v) <= L1) minorX.push(v);
}

// extend a histogram along the baseline to both edges of the axis
function withBaseline(pts) {
  const p = pts.slice();
  if (p[0][0] > L0) p.unshift([L0, 0]);
  if (p[p.length - 1][0] < L1) p.push([L1, 0]);
  return p;
}

antibodies.forEach((ab, ai) => {
  const sets = curveSets[ab];
  for (let r = 0; r < rowLabels.length; r++) {
    for (let c = 0; c < 3; c++) {
      const i = r * 3 + c;
      const px = colX[ai * 3 + c];
      const py = rowTop + r * rowPitch;
      const x = d3.scaleLog().domain([Math.pow(10, L0), Math.pow(10, L1)]).range([px, px + panelW]);
      const y = d3.scaleLinear().domain([0, 100]).range([py + panelH - 0.6, py + 9.5]);
      const fx = d => x(Math.pow(10, d[0]));
      const fy = d => y(d[1]);

      const id = `clip-${ai}-${i}`;
      defs.append("clipPath").attr("id", id).append("rect")
        .attr("x", px).attr("y", py).attr("width", panelW).attr("height", panelH);

      const g = svg.append("g").attr("clip-path", `url(#${id})`);
      const area = d3.area().x(fx).y0(y(0)).y1(fy).curve(d3.curveMonotoneX);
      const line = d3.line().x(fx).y(fy).curve(d3.curveMonotoneX);

      const hum = withBaseline(sets.human[i]);
      g.append("path").attr("d", area(hum)).attr("fill", col.humanFill);
      g.append("path").attr("d", line(hum)).attr("fill", "none").attr("stroke", col.human).attr("stroke-width", 1.3);
      g.append("path").attr("d", line(withBaseline(sets.chimp[i]))).attr("fill", "none").attr("stroke", col.chimp).attr("stroke-width", 1.4).attr("stroke-linejoin", "round");
      g.append("path").attr("d", line(withBaseline(sets.ko[i]))).attr("fill", "none").attr("stroke", col.ko).attr("stroke-width", 1.3).attr("stroke-linejoin", "round");

      svg.append("rect").attr("x", px).attr("y", py).attr("width", panelW).attr("height", panelH)
        .attr("fill", "none").attr("stroke", col.frame).attr("stroke-width", 1);

      const yMajor = svg.append("g").attr("transform", `translate(${px},0)`)
        .call(d3.axisLeft(y).tickValues(yTickPercents).tickSize(3).tickFormat(""));
      const yMinor = svg.append("g").attr("transform", `translate(${px},0)`)
        .call(d3.axisLeft(y).tickValues(d3.range(0, 101, 4)).tickSize(1.5).tickFormat(""));
      const xMajor = svg.append("g").attr("transform", `translate(0,${py + panelH})`)
        .call(d3.axisBottom(x).tickValues(majorX).tickSize(3).tickFormat(""));
      const xMinor = svg.append("g").attr("transform", `translate(0,${py + panelH})`)
        .call(d3.axisBottom(x).tickValues(minorX).tickSize(1.5).tickFormat(""));
      [yMajor, yMinor, xMajor, xMinor].forEach(a => {
        a.select(".domain").remove();
        a.selectAll("line").attr("stroke", col.tick).attr("stroke-width", 0.8);
      });

      if (r === rowLabels.length - 1) {
        xTickExponents.forEach(e => {
          const t = svg.append("text").attr("x", x(Math.pow(10, e))).attr("y", py + panelH + 17)
            .attr("text-anchor", "middle").attr("font-size", 12.5);
          t.append("tspan").text("10");
          t.append("tspan").attr("font-size", 8.5).attr("dy", -5).text(String(e));
        });
      }
    }
  }

  const gx0 = colX[ai * 3], gx1 = colX[ai * 3 + 2] + panelW;
  svg.append("text").attr("x", (gx0 + gx1) / 2 + 2).attr("y", 24).attr("text-anchor", "middle")
    .attr("font-size", 25).text(ab);
  svg.append("line").attr("x1", gx0).attr("x2", gx1).attr("y1", 31).attr("y2", 31)
    .attr("stroke", "#000").attr("stroke-width", 3.5);

  const ty = 1002;
  const title = svg.append("text").attr("x", gx0 + 3).attr("y", ty).attr("font-size", 28).text(axisTitle);
  const tw = title.node().getComputedTextLength();
  const ax0 = gx0 + 3 + tw + 6, ax1 = gx1;
  svg.append("line").attr("x1", ax0).attr("x2", ax1 - 18).attr("y1", ty - 6).attr("y2", ty - 6)
    .attr("stroke", "#000").attr("stroke-width", 3);
  svg.append("path").attr("d", `M${ax1 - 20},${ty - 13}L${ax1},${ty - 6}L${ax1 - 20},${ty + 1}Z`).attr("fill", "#000");
});

rowLabels.forEach((lab, r) => {
  const cy = rowTop + r * rowPitch + panelH / 2;
  svg.append("text").attr("transform", `translate(24,${cy}) rotate(-90)`)
    .attr("text-anchor", "middle").attr("font-size", 26).text(lab);
});

const legendItems = [
  {name: seriesNames[0], fill: col.ko, stroke: "#3a1a10", x: 239},
  {name: seriesNames[1], fill: "#000", stroke: "#000", x: 515},
  {name: seriesNames[2], fill: col.humanFill, stroke: "#666", x: 636}
];
legendItems.forEach(it => {
  svg.append("rect").attr("x", it.x).attr("y", 1022).attr("width", 21).attr("height", 20)
    .attr("fill", it.fill).attr("stroke", it.stroke).attr("stroke-width", 1.2);
  svg.append("text").attr("x", it.x + 28).attr("y", 1041).attr("font-size", 28).text(it.name);
});
</script>
</body></html>
